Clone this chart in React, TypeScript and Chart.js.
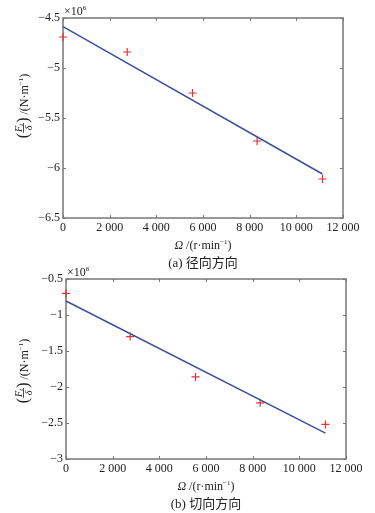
import React, { useEffect, useRef } from "react";
import { Chart, registerables } from "chart.js";

Chart.register(...registerables);

// ---- data ----
const speeds = [0, 2750, 5550, 8320, 11120];
const radialMeasured = [-4.69, -4.84, -5.25, -5.73, -6.11];
const tangentialMeasured = [-0.7, -1.3, -1.86, -2.22, -2.52];
const fitX = [0, 11120];
const radialFit = [-4.587, -6.06];
const tangentialFit = [-0.805, -2.64];
const xTicks = [0, 2000, 4000, 6000, 8000, 10000, 12000];
const radialYTicks = [-6.5, -6, -5.5, -5, -4.5];
const tangentialYTicks = [-3, -2.5, -2, -1.5, -1, -0.5];
const captions = ["(a) 径向方向", "(b) 切向方向"];

const SERIF = "'Liberation Serif', 'DejaVu Serif', serif";
const TEXT = "#222";
const FRAME = "#777";

function fmtX(v: number): string {
  if (v >= 1000) return Math.floor(v / 1000) + " " + String(v % 1000).padStart(3, "0");
  return String(v);
}
function fmtY(v: number): string {
  return (v < 0 ? "\u2212" : "") + String(Math.abs(v));
}

function drawYTitle(ctx: CanvasRenderingContext2D, cx: number, cy: number) {
  ctx.save();
  ctx.translate(cx, cy);
  ctx.rotate(-Math.PI / 2);
  ctx.fillStyle = TEXT;
  ctx.strokeStyle = TEXT;
  ctx.textBaseline = "alphabetic";
  ctx.textAlign = "left";
  const fParen = `16px ${SERIF}`;
  const fFrac = `italic 10px ${SERIF}`;
  const fSub = `italic 7px ${SERIF}`;
  const fMain = `12px ${SERIF}`;
  const fSup = `7px ${SERIF}`;
  const m = (f: string, t: string) => {
    ctx.font = f;
    return ctx.measureText(t).width;
  };
  const wParen = m(fParen, "(");
  const wF = m(fFrac, "F");
  const wT = m(fSub, "t");
  const wD = m(fFrac, "\u03b4");
  const wFrac = Math.max(wF + wT, wD) + 2;
  const wMain = m(fMain, " /(N\u00b7m");
  const wSup = m(fSup, "\u22121");
  const wClose = m(fMain, ")");
  const total = wParen * 2 + wFrac + wMain + wSup + wClose;
  let x = -total / 2;
  ctx.font = fParen;
  ctx.fillText("(", x, 5);
  x += wParen;
  // fraction
  ctx.font = fFrac;
  const nx = x + (wFrac - (wF + wT)) / 2;
  ctx.fillText("F", nx, -1.5);
  ctx.font = fSub;
  ctx.fillText("t", nx + wF, 0);
  ctx.lineWidth = 0.8;
  ctx.beginPath();
  ctx.moveTo(x, 0.5);
  ctx.lineTo(x + wFrac, 0.5);
  ctx.stroke();
  ctx.font = fFrac;
  ctx.fillText("\u03b4", x + (wFrac - wD) / 2, 8.5);
  x += wFrac;
  ctx.font = fParen;
  ctx.fillText(")", x, 5);
  x += wParen;
  ctx.font = fMain;
  ctx.fillText(" /(N\u00b7m", x, 4.5);
  x += wMain;
  ctx.font = fSup;
  ctx.fillText("\u22121", x, -0.5);
  x += wSup;
  ctx.font = fMain;
  ctx.fillText(")", x, 4.5);
  ctx.restore();
}

function drawXTitle(ctx: CanvasRenderingContext2D, cx: number, cy: number) {
  ctx.save();
  ctx.fillStyle = TEXT;
  ctx.textBaseline = "alphabetic";
  ctx.textAlign = "left";
  const fI = `italic 12px ${SERIF}`;
  const fM = `12px ${SERIF}`;
  const fS = `7px ${SERIF}`;
  const parts: [string, string, number][] = [
    ["\u03a9", fI, 0],
    [" /(r\u00b7min", fM, 0],
    ["\u22121", fS, -5],
    [")", fM, 0],
  ];
  let total = 0;
  for (const p of parts) {
    ctx.font = p[1];
    total += ctx.measureText(p[0]).width;
  }
  let x = cx - total / 2;
  for (const p of parts) {
    ctx.font = p[1];
    ctx.fillText(p[0], x, cy + 4 + p[2]);
    x += ctx.measureText(p[0]).width;
  }
  ctx.restore();
}

interface PanelSpec {
  canvasH: number;
  top: number;
  bottom: number;
  left: number;
  right: number;
  measured: number[];
  fit: number[];
  yTicks: number[];
  caption: string;
  yTitleY: number;
  yTitleX: number;
}

function makeChart(canvas: HTMLCanvasElement, p: PanelSpec) {
  const yMin = p.yTicks[0];
  const yMax = p.yTicks[p.yTicks.length - 1];
  const framePlugin = {
    id: "frame",
    beforeDatasetsDraw(chart: any) {
      const ctx: CanvasRenderingContext2D = chart.ctx;
      const a = chart.chartArea;
      const xs = chart.scales.x;
      const ys = chart.scales.y;
      ctx.save();
      ctx.strokeStyle = FRAME;
      ctx.lineWidth = 1.5;
      ctx.strokeRect(a.left, a.top, a.right - a.left, a.bottom - a.top);
      ctx.lineWidth = 1;
      ctx.beginPath();
      for (const v of xTicks) {
        const px = Math.round(xs.getPixelForValue(v)) + 0.5;
        ctx.moveTo(px, a.bottom);
        ctx.lineTo(px, a.bottom - 3);
        ctx.moveTo(px, a.top);
        ctx.lineTo(px, a.top + 3);
      }
      for (const v of p.yTicks) {
        const py = Math.round(ys.getPixelForValue(v)) + 0.5;
        ctx.moveTo(a.left, py);
        ctx.lineTo(a.left + 3, py);
        ctx.moveTo(a.right, py);
        ctx.lineTo(a.right - 3, py);
      }
      ctx.stroke();
      ctx.restore();
    },
    afterDraw(chart: any) {
      const ctx: CanvasRenderingContext2D = chart.ctx;
      const a = chart.chartArea;
      const midX = (a.left + a.right) / 2;
      ctx.save();
      ctx.fillStyle = TEXT;
      ctx.textBaseline = "alphabetic";
      ctx.textAlign = "left";
      ctx.font = `12px ${SERIF}`;
      ctx.fillText("\u00d710", a.left + 1, a.top - 3);
      const w = ctx.measureText("\u00d710").width;
      ctx.font = `7px ${SERIF}`;
      ctx.fillText("6", a.left + 1 + w, a.top - 8);
      ctx.restore();
      drawXTitle(ctx, midX, a.bottom + 27);
      drawYTitle(ctx, p.yTitleX, p.yTitleY);
      ctx.save();
      ctx.fillStyle = TEXT;
      ctx.font = `13px ${SERIF}, 'Noto Sans CJK SC'`;
      ctx.textAlign = "center";
      ctx.textBaseline = "middle";
      ctx.fillText(p.caption, midX, a.bottom + 45.5);
      ctx.restore();
    },
  };

  return new Chart(canvas, {
    type: "scatter",
    data: {
      datasets: [
        {
          type: "line",
          data: fitX.map((x, i) => ({ x, y: p.fit[i] })),
          borderColor: "#3c4f9e",
          borderWidth: 1.5,
          pointRadius: 0,
          fill: false,
          tension: 0,
          clip: false,
        } as any,
        {
          type: "scatter",
          data: speeds.map((x, i) => ({ x, y: p.measured[i] })),
          pointStyle: "cross",
          pointRadius: 4,
          borderColor: "#e63034",
          backgroundColor: "#e63034",
          borderWidth: 1.2,
          clip: false,
        } as any,
      ],
    },
    options: {
      animation: false,
      responsive: false,
      maintainAspectRatio: false,
      layout: {
        padding: { top: p.top, right: 375 - p.right, left: 0, bottom: 0 },
      },
      plugins: {
        legend: { display: false },
        tooltip: { enabled: false },
        title: { display: false },
      },
      scales: {
        x: {
          type: "linear",
          min: 0,
          max: 12000,
          afterBuildTicks: (s: any) => {
            s.ticks = xTicks.map((v) => ({ value: v }));
          },
          afterFit: (s: any) => {
            s.height = p.canvasH - p.bottom;
          },
          ticks: {
            callback: (v: any) => fmtX(Number(v)),
            font: { family: SERIF, size: 12 },
            color: TEXT,
            padding: 3,
            maxRotation: 0,
            autoSkip: false,
          },
          grid: { display: false, drawTicks: false },
          border: { display: false },
        },
        y: {
          type: "linear",
          min: yMin,
          max: yMax,
          afterBuildTicks: (s: any) => {
            s.ticks = p.yTicks.map((v) => ({ value: v }));
          },
          afterFit: (s: any) => {
            s.width = p.left;
          },
          ticks: {
            callback: (v: any) => fmtY(Number(v)),
            font: { family: SERIF, size: 12 },
            color: TEXT,
            padding: 3,
            autoSkip: false,
          },
          grid: { display: false, drawTicks: false },
          border: { display: false },
        },
      },
    } as any,
    plugins: [framePlugin],
  });
}

const panelA: PanelSpec = {
  canvasH: 275,
  top: 18,
  bottom: 218,
  left: 63,
  right: 343,
  measured: radialMeasured,
  fit: radialFit,
  yTicks: radialYTicks,
  caption: captions[0],
  yTitleY: 106,
  yTitleX: 23,
};

const panelB: PanelSpec = {
  canvasH: 255,
  top: 21,
  bottom: 201,
  left: 66,
  right: 346,
  measured: tangentialMeasured,
  fit: tangentialFit,
  yTicks: tangentialYTicks,
  caption: captions[1],
  yTitleY: 113,
  yTitleX: 23,
};

function Panel({ spec, top }: { spec: PanelSpec; top: number }) {
  const ref = useRef<HTMLCanvasElement | null>(null);
  useEffect(() => {
    if (!ref.current) return;
    const chart = makeChart(ref.current, spec);
    return () => chart.destroy();
  }, [spec]);
  return (
    <canvas
      ref={ref}
      width={375}
      height={spec.canvasH}
      style={{ position: "absolute", left: 0, top, width: 375, height: spec.canvasH }}
    />
  );
}

export default function App() {
  return (
    <div
      style={{
        position: "fixed",
        left: 0,
        top: 0,
        width: 375,
        height: 513,
        background: "#fff",
        overflow: "hidden",
      }}
    >
      <Panel spec={panelA} top={0} />
      <Panel spec={panelB} top={258} />
    </div>
  );
}
